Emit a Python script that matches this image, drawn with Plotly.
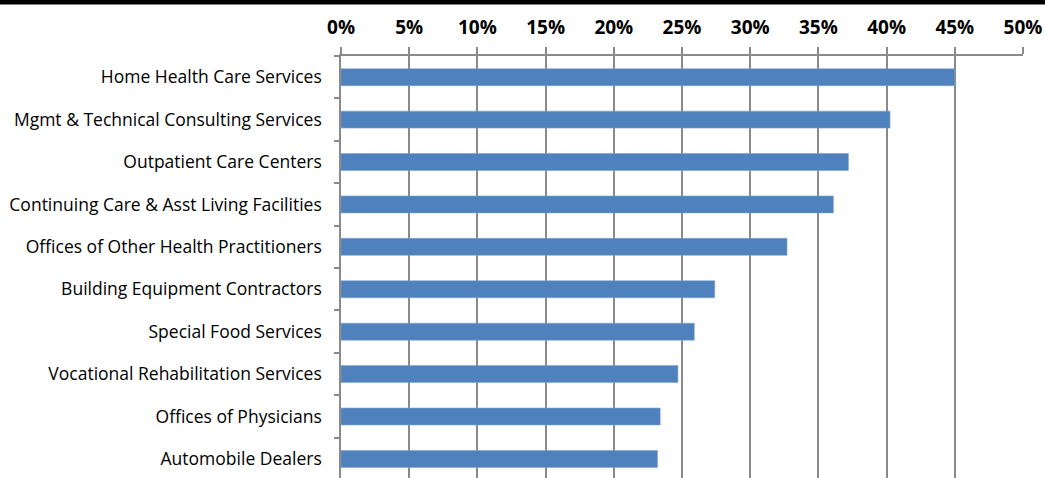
import plotly.graph_objects as go

categories = [
    "Home Health Care Services",
    "Mgmt & Technical Consulting Services",
    "Outpatient Care Centers",
    "Continuing Care & Asst Living Facilities",
    "Offices of Other Health Practitioners",
    "Building Equipment Contractors",
    "Special Food Services",
    "Vocational Rehabilitation Services",
    "Offices of Physicians",
    "Automobile Dealers",
]
values = [0.450, 0.4025, 0.372, 0.361, 0.327, 0.274, 0.259, 0.247, 0.234, 0.232]
tick_vals = [0, 0.05, 0.10, 0.15, 0.20, 0.25, 0.30, 0.35, 0.40, 0.45, 0.50]
tick_text = ["0%", "5%", "10%", "15%", "20%", "25%", "30%", "35%", "40%", "45%", "50%"]

W, H = 1045, 478
ML, MR, MT, MB = 341, 22, 56, 0
pw, ph = W - ML - MR, H - MT - MB

fig = go.Figure(go.Bar(
    x=values, y=categories, orientation="h",
    marker=dict(color="#4F81BD", line=dict(color="#7FA3D1", width=0.6)),
    width=0.4,
))

fig.update_layout(
    width=W, height=H,
    margin=dict(l=ML, r=MR, t=MT, b=MB, pad=0),
    paper_bgcolor="white", plot_bgcolor="white",
    showlegend=False,
    font=dict(family="'Open Sans', sans-serif", color="#000000"),
    xaxis=dict(
        side="top", range=[0, 0.5], tickvals=tick_vals, ticktext=tick_text,
        tickfont=dict(size=19, family="'Open Sans', sans-serif", weight="bold"),
        showgrid=True, gridcolor="#8a8a8a", gridwidth=1.5,
        showline=True, linecolor="#8a8a8a", linewidth=1.5,
        ticks="outside", ticklen=7, tickcolor="#8a8a8a", tickwidth=1.5,
        ticklabelstandoff=6,
        zeroline=False, fixedrange=True,
    ),
    yaxis=dict(
        categoryorder="array", categoryarray=categories,
        range=[9.45, -0.5],
        tickfont=dict(size=17.5, family="'Open Sans', sans-serif"),
        showline=True, linecolor="#8a8a8a", linewidth=1.5,
        ticks="outside", ticklen=5, tickcolor="#8a8a8a", tickwidth=1.5,
        tickson="boundaries", ticklabelstandoff=14,
        showgrid=False, zeroline=False, fixedrange=True,
    ),
    shapes=[dict(
        type="rect", xref="paper", yref="paper",
        x0=-ML / pw, x1=(W - ML) / pw,
        y0=(H - MB - 4.5) / ph, y1=(H - MB) / ph,
        fillcolor="black", line=dict(width=0), layer="above",
    )],
)

fig.write_html(
    "out.html",
    config={"displayModeBar": False},
    post_script="document.body.style.margin='0';document.body.style.overflow='hidden';",
)
